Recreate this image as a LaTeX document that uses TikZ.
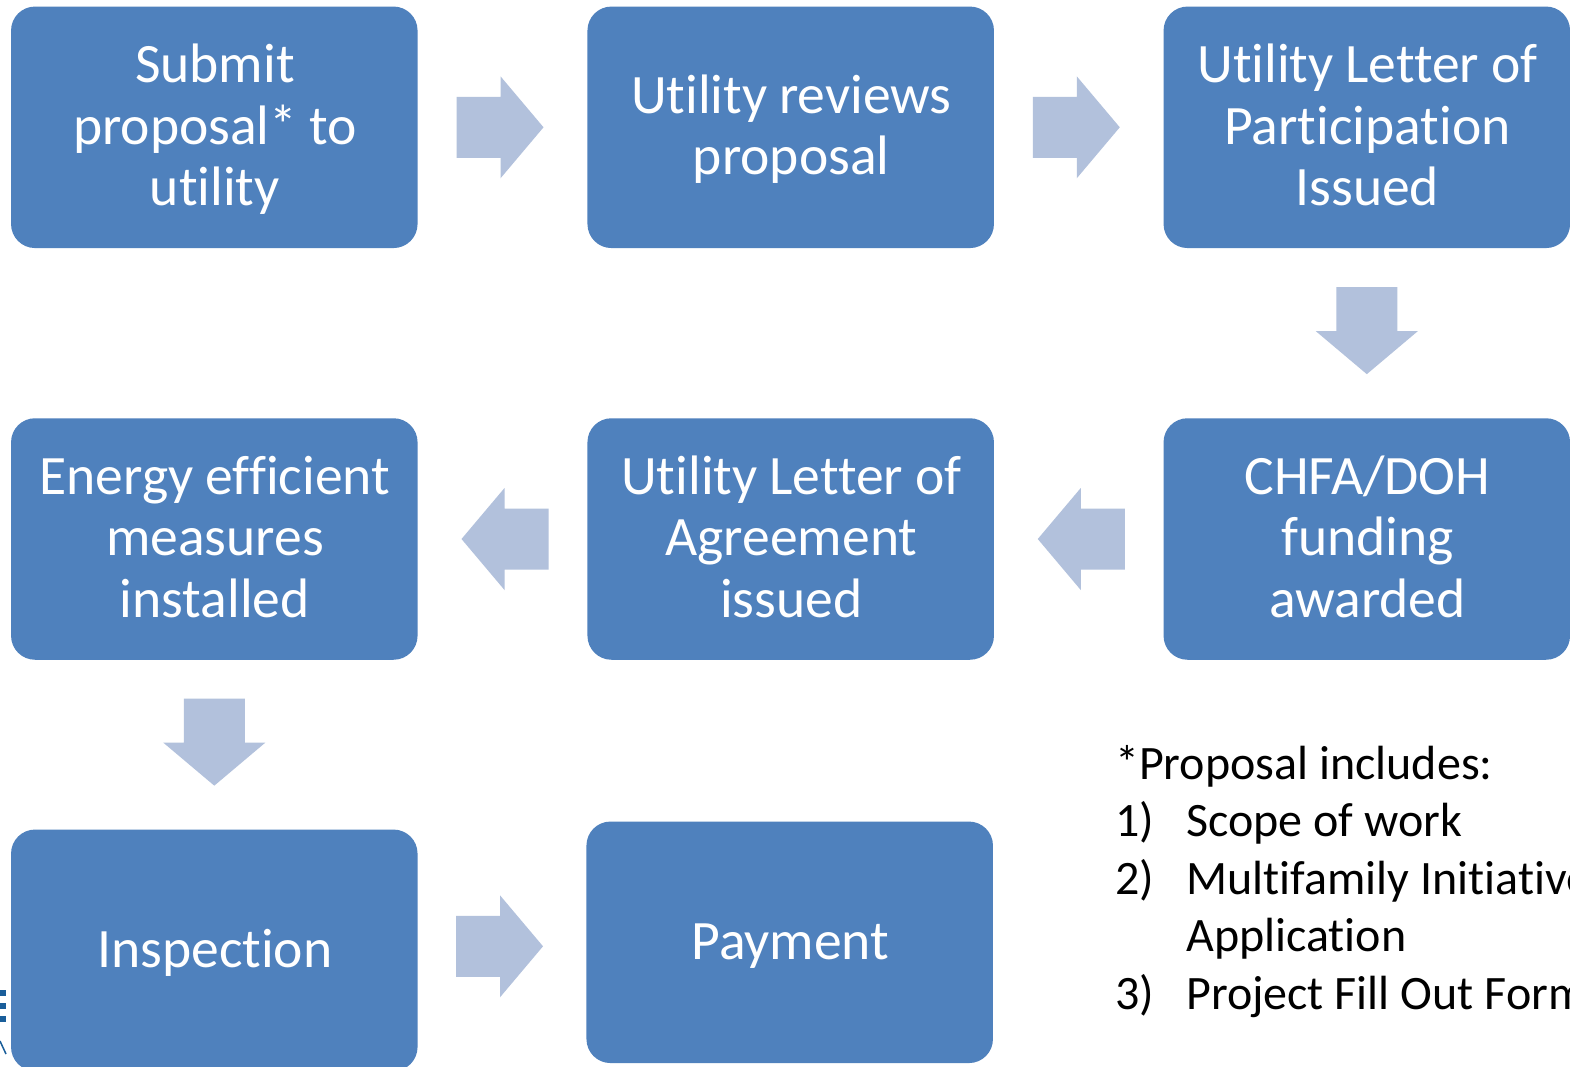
\documentclass[tikz,border=0pt]{standalone}
\usepackage{fontspec}
\setmainfont{Carlito}[Ligatures=NoCommon]
\newfontfamily\boxfont{Carlito}[Ligatures=NoCommon,WordSpace=0.95]
\usetikzlibrary{calc}
\definecolor{boxblue}{HTML}{4F81BD}
\definecolor{arrowblue}{HTML}{B2C1DC}
\definecolor{logoblue}{HTML}{1A5E9A}
\tikzset{
  x=1pt,y=1pt,
  flowbox/.style={draw=none,fill=boxblue,rounded corners=24pt,minimum width=406.5pt,minimum height=241.5pt,inner sep=0pt},
  boxlabel/.style={text=white,inner sep=0pt,align=center,font=\boxfont\fontsize{55.6}{61.5}\selectfont},
  blockarrow/.style={fill=arrowblue,draw=none},
  notetext/.style={inner sep=0pt,align=left,text=black,font=\fontsize{48}{57.5}\selectfont},
  logobar/.style={fill=logoblue,draw=none}
}
\newcommand{\flowstep}[3]{% name, position, text
  \node[flowbox] (#1) at (#2) {};
  \node[boxlabel,yshift=-4.5pt,xshift=0.6pt] (#1text) at (#1.center) {\strut#3\strut};
}
% block arrow between two named anchors, centred on their midpoint, pointing along the given angle
\newcommand{\blockarrowbetween}[3]{%
  \path ($(#1)!0.5!(#2)$) coordinate (midpt);
  \fill[blockarrow,shift={(midpt)},rotate=#3]
    (-46,-30.5) -- (-2,-30.5) -- (-2,-51) -- (41,0) -- (-2,51) -- (-2,30.5) -- (-46,30.5) -- cycle;
}
\begin{document}
\begin{tikzpicture}
\useasboundingbox (0,0) rectangle (1570,-1066);
\clip (0,0) rectangle (1570,-1066);
\fill[white] (0,0) rectangle (1570,-1066);
% logo fragment
\fill[logobar] (0,-990) rectangle (6,-996);
\fill[logobar] (0,-1003) rectangle (6,-1009);
\fill[logobar] (0,-1016) rectangle (6,-1022);
\draw[logoblue,line width=1.5pt] (0,-1041) -- (6,-1054);
% boxes
\flowstep{n1}{214.3,-127.3}{Submit\\proposal* to\\utility}
\flowstep{n2}{790.7,-127.3}{Utility reviews\\proposal}
\flowstep{n3}{1366.8,-127.3}{Utility Letter of\\Participation\\Issued}
\flowstep{n4}{1366.8,-539}{CHFA/DOH\\funding\\awarded}
\flowstep{n5}{790.7,-539}{Utility Letter of\\Agreement\\issued}
\flowstep{n6}{214.3,-539}{Energy efficient\\measures\\installed}
\flowstep{n7}{214.3,-950.3}{Inspection}
\flowstep{n8}{789.7,-942.3}{Payment}
% arrows
\blockarrowbetween{n1.east}{n2.west}{0}
\blockarrowbetween{n2.east}{n3.west}{0}
\blockarrowbetween{n3.south}{n4.north}{-90}
\blockarrowbetween{n4.west}{n5.east}{180}
\blockarrowbetween{n5.west}{n6.east}{180}
\blockarrowbetween{n6.south}{n7.north}{-90}
\blockarrowbetween{n7.east}{n8.west}{0}
% note
\node[notetext,anchor=north west] (note) at (1115,-745) {*Proposal includes:\\
\makebox[71pt][l]{1)}Scope of work\\
\makebox[71pt][l]{2)}Multifamily Initiative\\
\hspace*{71pt}Application\\
\makebox[71pt][l]{3)}Project Fill Out Form};
\end{tikzpicture}
\end{document}
